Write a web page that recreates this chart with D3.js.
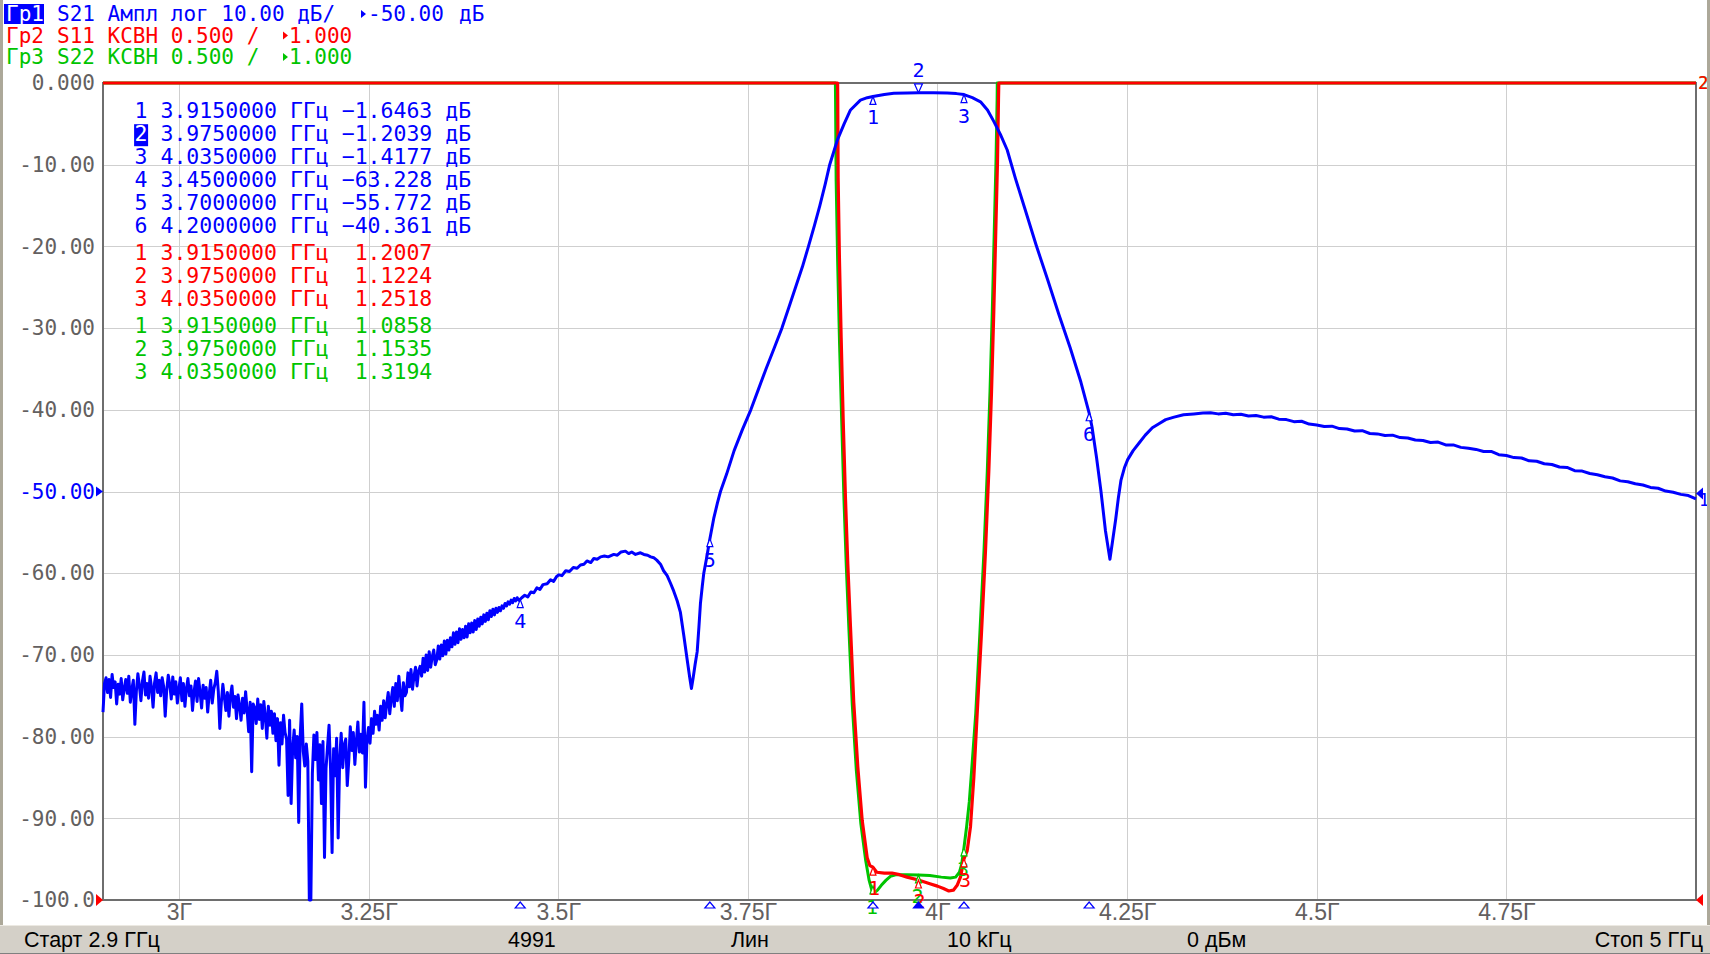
<!DOCTYPE html>
<html><head><meta charset="utf-8">
<script src="https://cdn.jsdelivr.net/npm/d3@7"></script>
<style>
html,body{margin:0;padding:0;background:#fff;overflow:hidden;}
svg{display:block;}
text{white-space:pre;}
</style></head>
<body><svg id="chart" width="1710" height="954"></svg>
<script>
// ---------------- DATA ----------------
const startGHz = 2.9, stopGHz = 5.0;
const xTickValues = [3.0, 3.25, 3.5, 3.75, 4.0, 4.25, 4.5, 4.75];
const xTickLabels = ["3Г", "3.25Г", "3.5Г", "3.75Г", "4Г", "4.25Г", "4.5Г", "4.75Г"];
const yTickValues = [0, -10, -20, -30, -40, -50, -60, -70, -80, -90, -100];
const yTickLabels = ["0.000", "-10.00", "-20.00", "-30.00", "-40.00", "-50.00", "-60.00", "-70.00", "-80.00", "-90.00", "-100.0"];
const vswrRef = 1.0, vswrPerDiv = 0.5, divisions = 10;

// S21 (dB): noisy low-frequency part, one reading every 2 MHz from 2.900 GHz
const s21NoiseStartGHz = 2.9, s21NoiseStepGHz = 0.002;
const s21NoiseDb = [
 -77.0,-73.5,-72.8,-74.6,-73.0,-75.2,-72.4,-74.0,-73.3,-76.0,
 -73.6,-74.8,-72.9,-75.5,-74.1,-73.0,-74.7,-72.6,-75.8,-74.2,
 -73.1,-78.5,-74.4,-72.3,-73.8,-75.6,-73.2,-72.1,-74.9,-73.5,
 -75.3,-72.6,-74.0,-76.4,-73.4,-72.2,-74.6,-73.1,-75.0,-72.8,
 -73.9,-77.5,-74.3,-72.5,-73.6,-75.4,-72.7,-74.8,-73.3,-75.9,
 -74.2,-72.8,-75.6,-73.5,-76.3,-74.1,-72.9,-75.0,-73.8,-76.8,
 -74.5,-73.2,-75.7,-72.9,-74.6,-76.5,-73.7,-75.3,-74.0,-77.0,
 -74.8,-73.1,-75.9,-74.2,-73.4,-72.0,-74.5,-79.0,-75.8,-73.6,
 -75.2,-76.8,-74.6,-77.5,-75.0,-73.8,-76.4,-75.1,-77.8,-74.9,
 -76.2,-78.0,-75.3,-77.1,-74.5,-76.8,-79.4,-75.8,-84.3,-76.0,
 -76.5,-78.4,-75.4,-77.9,-76.1,-79.0,-75.7,-77.5,-80.2,-76.3,
 -78.6,-76.9,-79.6,-77.2,-80.5,-77.8,-83.5,-78.3,-80.9,-77.4,
 -79.5,-80.3,-87.2,-78.0,-88.2,-81.4,-79.2,-82.6,-80.0,-90.5,
 -79.8,-76.0,-81.8,-83.6,-80.9,-83.0,-100.0,-100.0,-84.5,-79.8,
 -82.8,-79.5,-85.3,-81.0,-88.2,-80.6,-94.8,-83.9,-81.2,-78.6,
 -84.0,-94.2,-81.5,-84.8,-80.2,-92.4,-82.7,-79.6,-83.8,-81.0,
 -80.3,-86.0,-82.9,-78.8,-81.7,-79.5,-83.4,-80.6,-78.2,-81.9,
 -79.7,-82.0,-75.8,-86.2,-80.4,-78.9,-80.8,-77.8,-79.6,-76.9,
 -78.5,-77.4,-79.2,-76.3,-78.0,-75.6,-77.7,-76.0,-74.6,-77.2,
 -75.4,-74.0,-76.3,-73.5,-75.6,-72.6,-74.8,-76.8,-73.4,-75.0,
 -74.6,-72.2,-73.9,-71.8,-74.2,-72.6,-71.5,-73.8,-72.0,-71.4,
 -72.6,-70.4,-72.1,-70.0,-71.9,-69.6,-71.5,-70.2,-69.4,-71.2,
 -70.6,-68.9,-70.5,-68.8,-70.1,-68.3,-69.9,-68.2,-69.4,-67.9,
 -69.0,-67.3,-68.7,-67.2,-68.5,-66.8,-68.1,-66.9,-67.9,-66.5,
 -67.8,-66.2,-67.3,-66.1,-67.2,-65.8,-66.9,-65.6,-66.5,-65.4,
 -66.2,-65.1,-65.9,-64.9,-65.7,-64.6,-65.3,-64.4,-65.1,-64.3,
 -64.8,-64.2,-64.6,-64.0,-64.3,-63.7,-64.0,-63.5,-63.8,-63.3,
 -63.6,-63.1,-63.4,-63.0,-63.3,-63.2
];
// S21 (dB): rest of the sweep, [GHz, dB]
const s21Tail = [
 [3.452,-63.0],[3.456,-62.7],[3.460,-62.9],[3.464,-62.3],[3.468,-62.4],[3.472,-61.8],[3.476,-62.0],[3.480,-61.4],
 [3.4855,-61.3],[3.490,-60.8],[3.494,-61.0],[3.498,-60.4],[3.5008,-60.2],[3.505,-60.3],[3.510,-59.7],[3.515,-59.8],
 [3.520,-59.3],[3.525,-59.4],[3.5294,-59.0],[3.534,-58.9],[3.538,-58.5],[3.543,-58.7],[3.547,-58.2],[3.5514,-58.3],
 [3.556,-58.0],[3.561,-57.9],[3.566,-58.0],[3.5733,-57.7],[3.578,-57.8],[3.583,-57.4],[3.5887,-57.3],[3.593,-57.6],
 [3.597,-57.4],[3.602,-57.7],[3.6085,-57.5],[3.613,-57.7],[3.618,-57.8],[3.622,-58.0],[3.626,-58.1],[3.630,-58.4],
 [3.6349,-58.9],[3.639,-59.7],[3.6437,-60.3],[3.648,-61.2],[3.6524,-62.2],[3.657,-63.4],[3.6612,-64.8],[3.6656,-67.6],
 [3.6701,-70.6],[3.6735,-72.8],[3.6757,-74.1],[3.678,-72.8],[3.6805,-71.2],[3.6833,-69.6],[3.6855,-66.7],[3.6876,-63.7],
 [3.690,-61.6],[3.692,-60.0],[3.696,-58.0],[3.700,-55.8],[3.7051,-53.3],[3.710,-51.4],[3.714,-50.0],[3.722,-47.9],
 [3.732,-45.0],[3.743,-42.4],[3.754,-40.0],[3.764,-37.5],[3.774,-35.0],[3.785,-32.4],[3.795,-30.0],[3.804,-27.5],
 [3.813,-25.0],[3.822,-22.5],[3.830,-20.0],[3.838,-17.4],[3.845,-15.0],[3.852,-12.4],[3.858,-10.0],[3.868,-7.0],
 [3.877,-5.0],[3.8854,-3.3],[3.8985,-2.1],
 [3.9075,-1.8],[3.915,-1.65],[3.93,-1.4],[3.9425,-1.26],[3.96,-1.21],[3.975,-1.2],[3.995,-1.2],[4.0129,-1.22],
 [4.025,-1.3],[4.035,-1.42],[4.046,-1.8],[4.0568,-2.3],[4.066,-3.3],[4.0743,-4.7],[4.083,-6.3],[4.092,-8.2],
 [4.1029,-11.7],[4.115,-15.3],[4.13,-19.8],[4.145,-24.0],[4.16,-28.3],[4.175,-32.4],[4.1891,-36.6],[4.198,-39.7],
 [4.2,-40.4],[4.2038,-42.1],[4.2097,-45.8],[4.2155,-49.9],[4.2215,-54.8],[4.2274,-58.3],[4.231,-56.0],[4.235,-53.4],
 [4.2385,-50.8],[4.242,-48.6],[4.2465,-47.1],[4.2508,-46.1],[4.258,-45.0],[4.2656,-44.1],[4.274,-43.1],[4.2833,-42.2],
 [4.292,-41.7],[4.3009,-41.2],[4.312,-40.9],[4.3244,-40.6],[4.338,-40.5],[4.35,-40.4],
 [4.36,-40.35],[4.37,-40.5],[4.38,-40.42],[4.39,-40.6],[4.40,-40.55],[4.41,-40.75],[4.42,-40.7],[4.43,-40.9],
 [4.44,-40.85],[4.45,-41.15],[4.46,-41.2],[4.47,-41.45],[4.48,-41.4],[4.49,-41.75],[4.50,-41.85],[4.51,-42.05],
 [4.52,-42.0],[4.53,-42.3],[4.54,-42.35],[4.55,-42.6],[4.56,-42.55],[4.57,-42.9],[4.58,-42.95],[4.59,-43.15],
 [4.60,-43.1],[4.61,-43.4],[4.62,-43.45],[4.63,-43.7],[4.64,-43.75],[4.65,-44.0],[4.66,-43.95],[4.67,-44.3],
 [4.68,-44.3],[4.69,-44.6],[4.70,-44.7],[4.71,-44.85],[4.72,-45.1],[4.73,-45.1],[4.74,-45.5],[4.75,-45.6],
 [4.76,-45.85],[4.77,-45.9],[4.78,-46.25],[4.79,-46.3],[4.80,-46.6],[4.81,-46.7],[4.82,-47.0],[4.83,-47.05],
 [4.84,-47.45],[4.85,-47.5],[4.86,-47.8],[4.87,-47.95],[4.88,-48.2],[4.89,-48.35],[4.90,-48.7],[4.91,-48.8],
 [4.92,-49.05],[4.93,-49.2],[4.94,-49.5],[4.95,-49.6],[4.96,-49.95],[4.97,-50.1],[4.98,-50.35],[4.99,-50.5],[5.00,-50.9]
];
// S11 VSWR, [GHz, VSWR] (values above the top of the scale are off-screen)
const s11Vswr = [
 [2.9,9],[3.8684,9],[3.8686,5.9],[3.8691,5.42],[3.8708,4.93],[3.8731,4.44],[3.8757,3.95],[3.8788,3.455],
 [3.8818,3.06],[3.8854,2.67],[3.8897,2.21],[3.895,1.816],[3.9008,1.488],[3.9074,1.259],[3.911,1.21],[3.915,1.2007],
 [3.92,1.17],[3.93,1.165],[3.94,1.165],[3.95,1.155],[3.96,1.14],[3.975,1.1224],[3.99,1.10],[4.0,1.085],
 [4.008,1.07],[4.015,1.055],[4.021,1.06],[4.026,1.09],[4.0304,1.14],[4.035,1.2518],[4.0392,1.30],[4.0436,1.45],
 [4.048,1.75],[4.0524,2.14],[4.0581,2.636],[4.0633,3.13],[4.0677,3.62],[4.0713,4.11],[4.0743,4.6],[4.0769,5.09],
 [4.0792,5.52],[4.0805,5.9],[4.0809,9],[5.0,9]
];
// S22 VSWR, [GHz, VSWR]
const s22Vswr = [
 [2.9,9],[3.8655,9],[3.8657,5.9],[3.8665,5.4],[3.8685,4.9],[3.871,4.4],[3.8737,3.95],[3.8768,3.45],
 [3.8798,3.05],[3.8834,2.65],[3.8877,2.2],[3.893,1.8],[3.899,1.47],[3.9055,1.24],[3.91,1.12],[3.9135,1.06],
 [3.917,1.045],[3.921,1.06],[3.926,1.09],[3.932,1.12],[3.938,1.145],[3.946,1.155],[3.96,1.155],[3.975,1.1535],
 [3.99,1.15],[4.005,1.14],[4.017,1.135],[4.024,1.14],[4.029,1.17],[4.032,1.22],[4.035,1.3194],[4.0385,1.45],
 [4.042,1.6],[4.046,1.85],[4.0505,2.14],[4.056,2.636],[4.0613,3.13],[4.0657,3.62],[4.0693,4.11],[4.0723,4.6],
 [4.0749,5.09],[4.0772,5.52],[4.0787,5.9],[4.0789,9],[5.0,9]
];
// Markers
const s21MarkerFreq = [3.915, 3.975, 4.035, 3.45, 3.70, 4.20];
const s21MarkerDb   = [-1.6463, -1.2039, -1.4177, -63.228, -55.772, -40.361];
const vswrMarkerFreq = [3.915, 3.975, 4.035];
const s11MarkerVswr = [1.2007, 1.1224, 1.2518];
const s22MarkerVswr = [1.0858, 1.1535, 1.3194];
const activeMarker = 2;
// Header / status texts
const headerTraceNames = ["Гр1", "Гр2", "Гр3"];
const headerLeft = ["S21 Ампл лог 10.00 дБ/", "S11 КСВН 0.500 /", "S22 КСВН 0.500 /"];
const headerRef = ["-50.00", "1.000", "1.000"];
const statusTexts = ["Старт 2.9 ГГц", "4991", "Лин", "10 kГц", "0 дБм", "Стоп 5 ГГц"];

// ---------------- DRAW ----------------
const BLUE = "#0000ff", RED = "#ff0000", GREEN = "#00c400", GRID = "#cfcfcf", FRAME = "#6e6e6e", LABEL = "#636060";
const MONO = "'DejaVu Sans Mono', monospace";
const SANS = "'Liberation Sans', Arial, sans-serif";
const L = 103, R = 1696, T = 83, B = 900;

const svg = d3.select("#chart");
svg.append("rect").attr("width", 1710).attr("height", 954).attr("fill", "#fff");

const x = d3.scaleLinear().domain([startGHz, stopGHz]).range([L, R]);
const yDb = d3.scaleLinear().domain([-100, 0]).range([B, T]);
const yVs = d3.scaleLinear().domain([vswrRef, vswrRef + vswrPerDiv * divisions]).range([B, T]).clamp(true);

// grid via axes
svg.append("g").attr("transform", `translate(0,${B})`)
  .call(d3.axisBottom(x).tickValues(xTickValues).tickSize(-(B - T)).tickFormat(""))
  .call(g => { g.select(".domain").remove(); g.selectAll("line").attr("stroke", GRID).attr("shape-rendering", "crispEdges"); });
svg.append("g").attr("transform", `translate(${L},0)`)
  .call(d3.axisLeft(yDb).tickValues(yTickValues.slice(1, -1)).tickSize(-(R - L)).tickFormat(""))
  .call(g => { g.select(".domain").remove(); g.selectAll("line").attr("stroke", GRID).attr("shape-rendering", "crispEdges"); });

// frame
svg.append("rect").attr("x", L).attr("y", T).attr("width", R - L).attr("height", B - T)
  .attr("fill", "none").attr("stroke", FRAME).attr("stroke-width", 1.2).attr("shape-rendering", "crispEdges");

// y labels
const yAx = svg.append("g").attr("transform", `translate(${L},0)`)
  .call(d3.axisLeft(yDb).tickValues(yTickValues).tickSize(0).tickPadding(8).tickFormat((d, i) => yTickLabels[i]));
yAx.select(".domain").remove();
yAx.selectAll("text").attr("font-family", MONO).attr("font-size", 21).attr("fill", (d) => d === -50 ? BLUE : LABEL);

// x labels
const xAx = svg.append("g").attr("transform", `translate(0,${B})`)
  .call(d3.axisBottom(x).tickValues(xTickValues).tickSize(0).tickPadding(4).tickFormat((d, i) => xTickLabels[i]));
xAx.select(".domain").remove();
xAx.selectAll("text").attr("font-family", SANS).attr("font-size", 23).attr("fill", LABEL);

// traces
const s21 = s21NoiseDb.map((v, i) => [s21NoiseStartGHz + i * s21NoiseStepGHz, v]).concat(s21Tail);
const lineDb = d3.line().x(d => x(d[0])).y(d => yDb(Math.max(-100, d[1])));
const lineVs = d3.line().x(d => x(d[0])).y(d => yVs(d[1]));
svg.append("clipPath").attr("id", "plotclip").append("rect")
  .attr("x", L - 2).attr("y", T - 3).attr("width", R - L + 4).attr("height", B - T + 5);
const traces = svg.append("g").attr("clip-path", "url(#plotclip)");
traces.append("path").attr("d", lineVs(s22Vswr)).attr("fill", "none").attr("stroke", GREEN).attr("stroke-width", 3).attr("stroke-linejoin", "round");
traces.append("path").attr("d", lineVs(s11Vswr)).attr("fill", "none").attr("stroke", RED).attr("stroke-width", 3.2).attr("stroke-linejoin", "round");
traces.append("path").attr("d", lineDb(s21)).attr("fill", "none").attr("stroke", BLUE).attr("stroke-width", 3).attr("stroke-linejoin", "round");

// marker helpers
function markerBelow(px, py, label, color, dx) {
  svg.append("path").attr("d", `M${px},${py}L${px - 3},${py + 8}L${px + 3},${py + 8}Z`)
    .attr("fill", "#fff").attr("stroke", color).attr("stroke-width", 1.2);
  svg.append("text").attr("x", px + (dx || 0)).attr("y", py + 28).attr("text-anchor", "middle")
    .attr("font-family", MONO).attr("font-size", 20).attr("fill", color).text(label);
}
function markerAbove(px, py, label, color) {
  svg.append("path").attr("d", `M${px},${py}L${px - 4},${py - 9}L${px + 4},${py - 9}Z`)
    .attr("fill", "#fff").attr("stroke", color).attr("stroke-width", 1.2);
  svg.append("text").attr("x", px).attr("y", py - 16).attr("text-anchor", "middle")
    .attr("font-family", MONO).attr("font-size", 20).attr("fill", color).text(label);
}
vswrMarkerFreq.forEach((f, i) => markerBelow(x(f), yVs(s22MarkerVswr[i]), String(i + 1), GREEN, -1));
vswrMarkerFreq.forEach((f, i) => markerBelow(x(f), yVs(s11MarkerVswr[i]), String(i + 1), RED, 1));
s21MarkerFreq.forEach((f, i) => {
  if (i + 1 === activeMarker) markerAbove(x(f), yDb(s21MarkerDb[i]), String(i + 1), BLUE);
  else markerBelow(x(f), yDb(s21MarkerDb[i]), String(i + 1), BLUE, 0);
});
// stimulus triangles under the axis
s21MarkerFreq.forEach((f, i) => {
  const px = x(f);
  svg.append("path").attr("d", `M${px},${B + 2}L${px - 5},${B + 8}L${px + 5},${B + 8}Z`)
    .attr("fill", i + 1 === activeMarker ? BLUE : "#fff").attr("stroke", BLUE).attr("stroke-width", 1.2);
});

// reference-level triangles
function tri(d, color) { svg.append("path").attr("d", d).attr("fill", color); }
tri(`M${L - 7},${yDb(-50) - 5}L${L},${yDb(-50)}L${L - 7},${yDb(-50) + 5}Z`, BLUE);
tri(`M${L - 7},${B - 6}L${L},${B}L${L - 7},${B + 6}Z`, RED);
tri(`M${R + 7},${B - 6}L${R},${B}L${R + 7},${B + 6}Z`, RED);
tri(`M${R + 7},${yDb(-50) - 4}L${R},${yDb(-50) + 2}L${R + 7},${yDb(-50) + 8}Z`, BLUE);
svg.append("text").attr("x", R + 3).attr("y", yDb(-50) + 14).attr("font-family", MONO).attr("font-size", 17).attr("fill", BLUE).text("1");
svg.append("text").attr("x", R + 2.5).attr("y", T + 6).attr("font-family", MONO).attr("font-size", 17).attr("fill", GREEN).text("2");
svg.append("text").attr("x", R + 2).attr("y", T + 6).attr("font-family", MONO).attr("font-size", 17).attr("fill", RED).text("2");

// header
const headerColors = [BLUE, RED, GREEN];
const headerBase = [21, 42.5, 64];
const refTriX = [361, 283, 283];
const refTextX = [368, 289, 289];
headerTraceNames.forEach((n, i) => {
  const g = svg.append("g");
  if (i === 0) g.append("rect").attr("x", 4).attr("y", 4).attr("width", 40).attr("height", 20).attr("fill", BLUE);
  g.append("text").attr("x", 6).attr("y", headerBase[i]).attr("font-family", MONO).attr("font-size", 21)
    .attr("fill", i === 0 ? "#fff" : headerColors[i]).text(n);
  g.append("text").attr("x", 57).attr("y", headerBase[i]).attr("font-family", MONO).attr("font-size", 21)
    .attr("fill", headerColors[i]).text(headerLeft[i]);
  const ty = headerBase[i] - 7;
  g.append("path").attr("d", `M${refTriX[i]},${ty - 4}L${refTriX[i] + 5},${ty}L${refTriX[i]},${ty + 4}Z`).attr("fill", headerColors[i]);
  g.append("text").attr("x", refTextX[i]).attr("y", headerBase[i]).attr("font-family", MONO).attr("font-size", 21)
    .attr("fill", headerColors[i]).text(headerRef[i]);
  if (i === 0) g.append("text").attr("x", 459).attr("y", headerBase[i]).attr("font-family", MONO).attr("font-size", 21)
    .attr("fill", BLUE).text("дБ");
});

// marker readout
const fmtVal = d3.format(".5r");
const rx = 134.6, cw = 12.94;
function readRow(yb, n, f, valStr, unit, color, active) {
  if (active) svg.append("rect").attr("x", rx - 0.5).attr("y", yb - 17).attr("width", 14).attr("height", 22).attr("fill", BLUE);
  svg.append("text").attr("x", rx).attr("y", yb).attr("font-family", MONO).attr("font-size", 21.5)
    .attr("fill", active ? "#fff" : color).text(n);
  svg.append("text").attr("x", rx + 2 * cw).attr("y", yb).attr("font-family", MONO).attr("font-size", 21.5)
    .attr("fill", color).text(`${f.toFixed(7)} ГГц ${valStr.padStart(7, " ")}${unit}`);
}
const blueBase = [118.3, 141.2, 164.1, 187.0, 209.9, 232.8];
s21MarkerFreq.forEach((f, i) => readRow(blueBase[i], String(i + 1), f, fmtVal(s21MarkerDb[i]), " дБ", BLUE, i + 1 === activeMarker));
const redBase = [259.8, 282.8, 305.8];
vswrMarkerFreq.forEach((f, i) => readRow(redBase[i], String(i + 1), f, fmtVal(s11MarkerVswr[i]), "", RED, false));
const greenBase = [332.8, 355.8, 378.8];
vswrMarkerFreq.forEach((f, i) => readRow(greenBase[i], String(i + 1), f, fmtVal(s22MarkerVswr[i]), "", GREEN, false));

// window borders
svg.append("rect").attr("x", 0).attr("y", 0).attr("width", 3).attr("height", 954).attr("fill", "#aca899");
svg.append("rect").attr("x", 1707).attr("y", 0).attr("width", 3).attr("height", 954).attr("fill", "#aca899");

// status bar
svg.append("rect").attr("x", 0).attr("y", 925).attr("width", 1710).attr("height", 29).attr("fill", "#d4d0c8");
svg.append("line").attr("x1", 0).attr("x2", 1710).attr("y1", 925.5).attr("y2", 925.5).attr("stroke", "#ece9e2");
svg.append("line").attr("x1", 0).attr("x2", 1710).attr("y1", 953.5).attr("y2", 953.5).attr("stroke", "#808080");
const statusX = [24, 508, 731, 947, 1187, 1703];
statusTexts.forEach((t, i) => {
  svg.append("text").attr("x", statusX[i]).attr("y", 947).attr("font-family", SANS).attr("font-size", 21.5)
    .attr("text-anchor", i === statusTexts.length - 1 ? "end" : "start").attr("fill", "#000").text(t);
});
</script>
</body></html>
